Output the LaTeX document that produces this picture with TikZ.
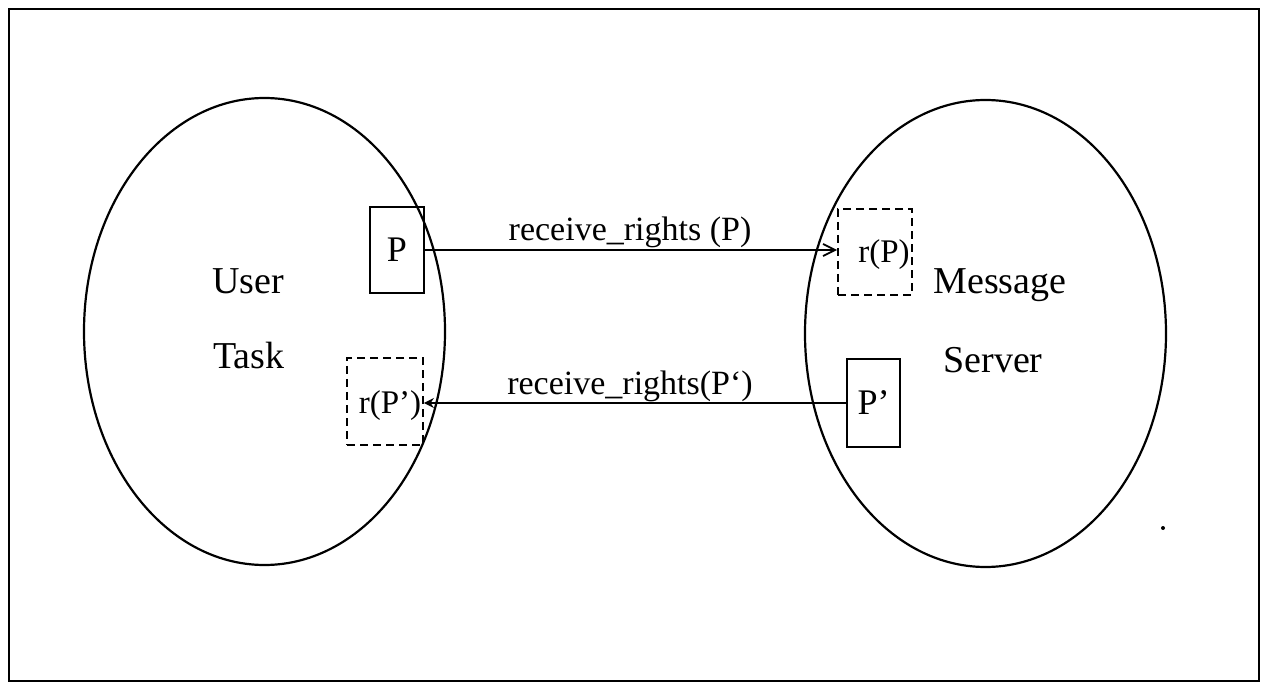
\documentclass[tikz,border=0pt]{standalone}
\usepackage{fontspec}
\setmainfont{Liberation Serif}
\usetikzlibrary{shapes.geometric,arrows.meta}

\tikzset{
  frame/.style={draw=black, line width=1.2pt},
  region/.style={draw=black, line width=1.1pt, ellipse, inner sep=0pt,
                 minimum width=180.5pt, minimum height=233.5pt},
  portbox/.style={draw=black, line width=0.9pt, inner sep=0pt,
                  font=\fontsize{18}{20}\selectfont},
  rightbox/.style={draw=black, line width=0.9pt, inner sep=0pt,
                   dash pattern=on 4pt off 2.5pt},
  regionlabel/.style={inner sep=0pt, anchor=base, font=\fontsize{19}{22}\selectfont},
  msglabel/.style={inner sep=0pt, anchor=base, font=\fontsize{17}{20}\selectfont},
  rightlabel/.style={inner sep=0pt, anchor=base, font=\fontsize{16.5}{19}\selectfont},
  transfer/.style={draw=black, line width=0.9pt,
                   -{Straight Barb[length=6pt,width=6pt]}},
  returntransfer/.style={draw=black, line width=0.9pt,
                   -{Stealth[length=5pt,width=5pt]}},
}

\begin{document}
\begin{tikzpicture}[x=0.5pt, y=-0.5pt]
  % page and outer frame
  \fill[white] (0,0) rectangle (1264,684);
  \useasboundingbox (0,0) rectangle (1264,684);
  \draw[frame] (9,9) rectangle (1259,681);

  % the two tasks
  \node[region] (user) at (264.5,331.5) {};
  \node[region] (server) at (985.5,333.5) {};

  \node[regionlabel] (userA) at (248,293) {User};
  \node[regionlabel] (userB) at (249,368) {Task};
  \node[regionlabel] (serverA) at (1000,293) {Message};
  \node[regionlabel] (serverB) at (993,372) {Server};

  % ports and receive rights
  \node[portbox, minimum width=27pt, minimum height=43pt] (P) at (397,250) {P};
  \node[rightbox, minimum width=37pt, minimum height=43pt] (rP) at (875,252) {};
  \node[rightlabel] (rPtext) at (884,263) {r(P)};

  \node[portbox, minimum width=26.5pt, minimum height=44pt] (Pp) at (873.5,403) {P'};
  \node[rightbox, minimum width=38pt, minimum height=43.5pt] (rPp) at (385,401.5) {};
  \node[rightlabel] (rPptext) at (390,413) {r(P')};

  % transfers of receive rights
  \draw[transfer] (P.east) -- (P.east -| rP.west);
  \draw[returntransfer] (Pp.west) -- (Pp.west -| rPp.east);

  \node[msglabel] (msgA) at (630,241) {receive\_rights (P)};
  \node[msglabel] (msgB) at (630,394) {receive\_rights(P`)};

  % speck on the sheet
  \fill[black] (1163,528) circle (1pt);
\end{tikzpicture}
\end{document}
